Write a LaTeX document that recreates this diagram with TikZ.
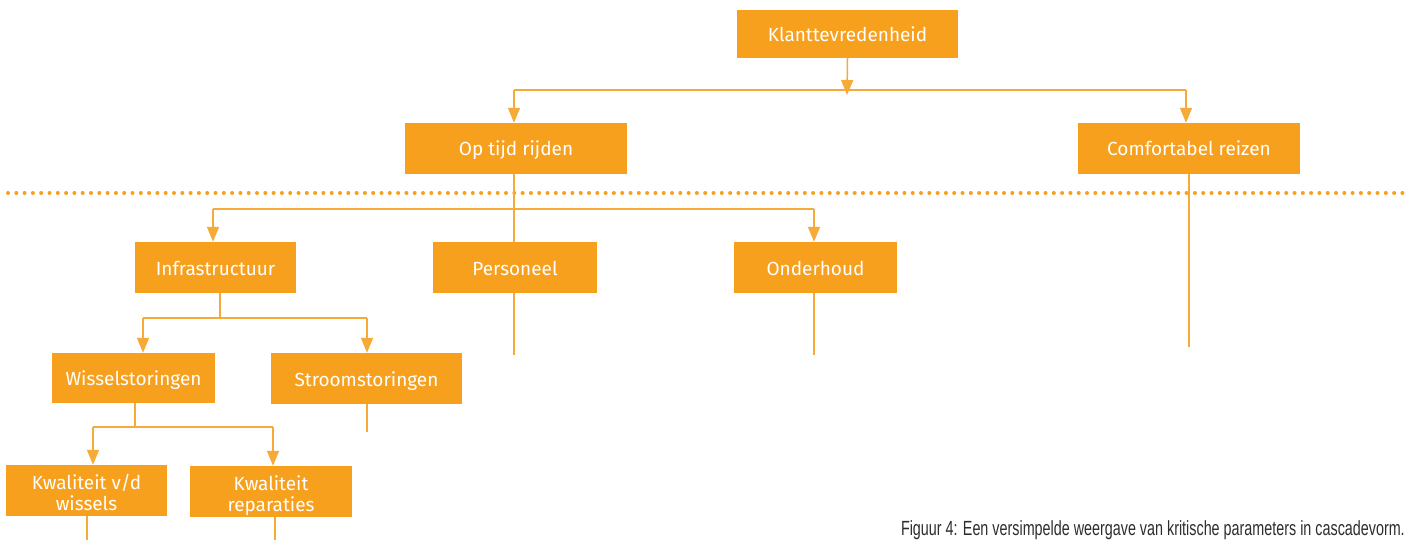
\documentclass[tikz,border=0pt]{standalone}
\usepackage{fontspec}
\setmainfont{Fira Sans}
\newfontfamily\capfont[FakeStretch=0.7]{Liberation Sans}
\usetikzlibrary{arrows.meta}
\definecolor{org}{RGB}{247,160,30}
\definecolor{lin}{RGB}{246,170,55}
\definecolor{captxt}{RGB}{45,45,45}
\begin{document}
\begin{tikzpicture}[x=1pt,y=-1pt,
  box/.style={fill=org, text=white, font=\fontsize{19}{21}\selectfont, align=center,
    inner sep=0pt, minimum height=50pt, text height=15pt, text depth=0pt},
  box2/.style={box, text height=39pt, text depth=0pt},
  conn/.style={draw=lin, line width=1.5pt},
  arr/.style={conn, -{Triangle[length=15pt,width=12pt]}},
  dots/.style={draw=org, line width=4pt, line cap=round, dash pattern=on 0pt off 8.3pt}]
\useasboundingbox (0,0) rectangle (1413,540);

% nodes
\node[box, minimum width=221pt, minimum height=48pt] (k) at (847.5,34) {Klanttevredenheid};
\node[box, minimum width=222pt, minimum height=51pt] (op) at (516,148.5) {Op tijd rijden};
\node[box, minimum width=222pt, minimum height=51pt] (cr) at (1189,148.5) {Comfortabel reizen};
\node[box, minimum width=161pt, minimum height=51pt] (inf) at (215.5,267.5) {Infrastructuur};
\node[box, minimum width=164pt, minimum height=51pt] (per) at (515,267.5) {Personeel};
\node[box, minimum width=163pt, minimum height=51pt] (ond) at (815.5,267.5) {Onderhoud};
\node[box, minimum width=163pt, minimum height=50pt] (ws) at (133.5,378) {Wisselstoringen};
\node[box, minimum width=191pt, minimum height=51pt] (ss) at (366.5,378.5) {Stroomstoringen};
\node[box2, minimum width=161pt, minimum height=51pt] (kw) at (86.5,490.5) {Kwaliteit v/d\\wissels};
\node[box2, minimum width=162pt, minimum height=51pt] (kr) at (271,491.5) {Kwaliteit\\reparaties};

\node[anchor=base east, inner sep=0pt, text=captxt, font=\capfont\fontsize{20.5}{24}\selectfont] (cap) at (1405,535)
  {Figuur 4: Een versimpelde weergave van kritische parameters in cascadevorm.};

% dotted separator
\coordinate (dl) at (8,193);
\coordinate (dr) at (1405,193);
\draw[dots] (dl) -- (dr);

% level 1
\coordinate (b1) at (847,90);
\coordinate (b1l) at (514,90);
\coordinate (b1r) at (1186,90);
\draw[arr] (k.south) -- ([yshift=-5pt]b1);
\draw[conn] (b1l) -- (b1r);
\draw[arr] (b1l) -- (b1l |- op.north);
\draw[arr] (b1r) -- (b1r |- cr.north);

% level 2
\coordinate (opb) at (514,174);
\coordinate (b2l) at (213,209);
\coordinate (b2r) at (814,209);
\draw[conn] (opb) -- (opb |- per.north);
\draw[conn] (b2l) -- (b2r);
\draw[arr] (b2l) -- (b2l |- inf.north);
\draw[arr] (b2r) -- (b2r |- ond.north);
\coordinate (crend) at (1189,347);
\draw[conn] (cr.south) -- (crend);

\coordinate (perend) at (514,355);
\coordinate (ondend) at (814,355);
\draw[conn] (perend |- per.south) -- (perend);
\draw[conn] (ondend |- ond.south) -- (ondend);

% level 3
\coordinate (b3) at (220,318);
\coordinate (b3l) at (143,318);
\coordinate (b3r) at (367,318);
\draw[conn] (b3 |- inf.south) -- (b3);
\draw[conn] (b3l) -- (b3r);
\draw[arr] (b3l) -- (b3l |- ws.north);
\draw[arr] (b3r) -- (b3r |- ss.north);
\coordinate (ssend) at (367,432);
\draw[conn] (ssend |- ss.south) -- (ssend);

% level 4
\coordinate (b4) at (135,427);
\coordinate (b4l) at (93,427);
\coordinate (b4r) at (273,427);
\draw[conn] (b4 |- ws.south) -- (b4);
\draw[conn] (b4l) -- (b4r);
\draw[arr] (b4l) -- (b4l |- kw.north);
\draw[arr] (b4r) -- (b4r |- kr.north);
\coordinate (kwend) at (87,540);
\coordinate (krend) at (275,540);
\draw[conn] (kwend |- kw.south) -- (kwend);
\draw[conn] (krend |- kr.south) -- (krend);
\end{tikzpicture}
\end{document}
